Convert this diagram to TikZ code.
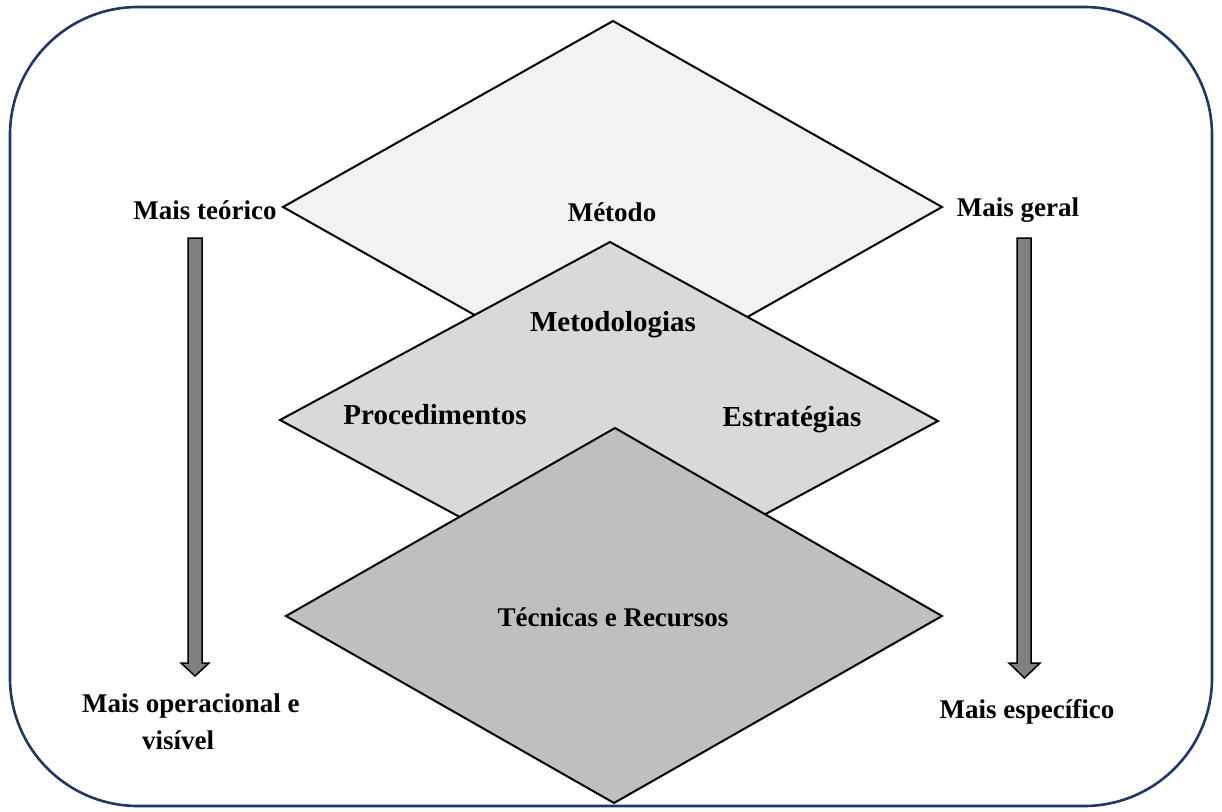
\documentclass[tikz,border=0pt]{standalone}
\usepackage{fontspec}
\setmainfont{Liberation Serif}
\definecolor{navy}{HTML}{1F3864}
\definecolor{fillA}{HTML}{F2F2F2}
\definecolor{fillB}{HTML}{D9D9D9}
\definecolor{fillC}{HTML}{BFBFBF}
\definecolor{arrowgray}{HTML}{808080}
\begin{document}
\begin{tikzpicture}[x=1pt,y=-1pt,
  diam/.style={draw=black,line width=2pt,line join=miter},
  lbl/.style={font=\fontsize{27}{31}\selectfont\bfseries,inner sep=0pt},
  lblbig/.style={font=\fontsize{29}{33}\selectfont\bfseries,inner sep=0pt},
  downarrow/.style={draw=black,line width=1.5pt,fill=arrowgray}]
\useasboundingbox (0,0) rectangle (1222,811);
\draw[navy,line width=2.6pt,rounded corners=128pt] (10,7) rectangle (1212,806);
% diamonds
\draw[diam,fill=fillA] (613,21) -- (942,207) -- (613,393) -- (283,207) -- cycle;
\draw[diam,fill=fillB] (610,242) -- (938,421) -- (610,598) -- (280,420) -- cycle;
\draw[diam,fill=fillC] (615,428) -- (942,616) -- (614,803) -- (286,616) -- cycle;
% arrows
\draw[downarrow] (188,238) -- (202,238) -- (202,663) -- (209,663) -- (195,676) -- (181,663) -- (188,663) -- cycle;
\draw[downarrow] (1017,238) -- (1031,238) -- (1031,663) -- (1040,663) -- (1024.5,678) -- (1009,663) -- (1017,663) -- cycle;
% labels
\node[lbl] (mt) at (205,210) {Mais teórico};
\node[lbl] (met) at (612,212) {Método};
\node[lbl] (mg) at (1018,210) {Mais geral};
\node[lblbig] (mtd) at (613,325) {Metodologias};
\node[lblbig] (proc) at (435,415) {Procedimentos};
\node[lblbig] (est) at (792,420) {Estratégias};
\node[lbl] (tec) at (613,617) {Técnicas e Recursos};
\node[lbl,anchor=west] (mo1) at (82,706) {Mais operacional e};
\node[lbl,anchor=west] (mo2) at (142,740) {visível};
\node[lbl] (me) at (1027,712) {Mais específico};
\end{tikzpicture}
\end{document}
